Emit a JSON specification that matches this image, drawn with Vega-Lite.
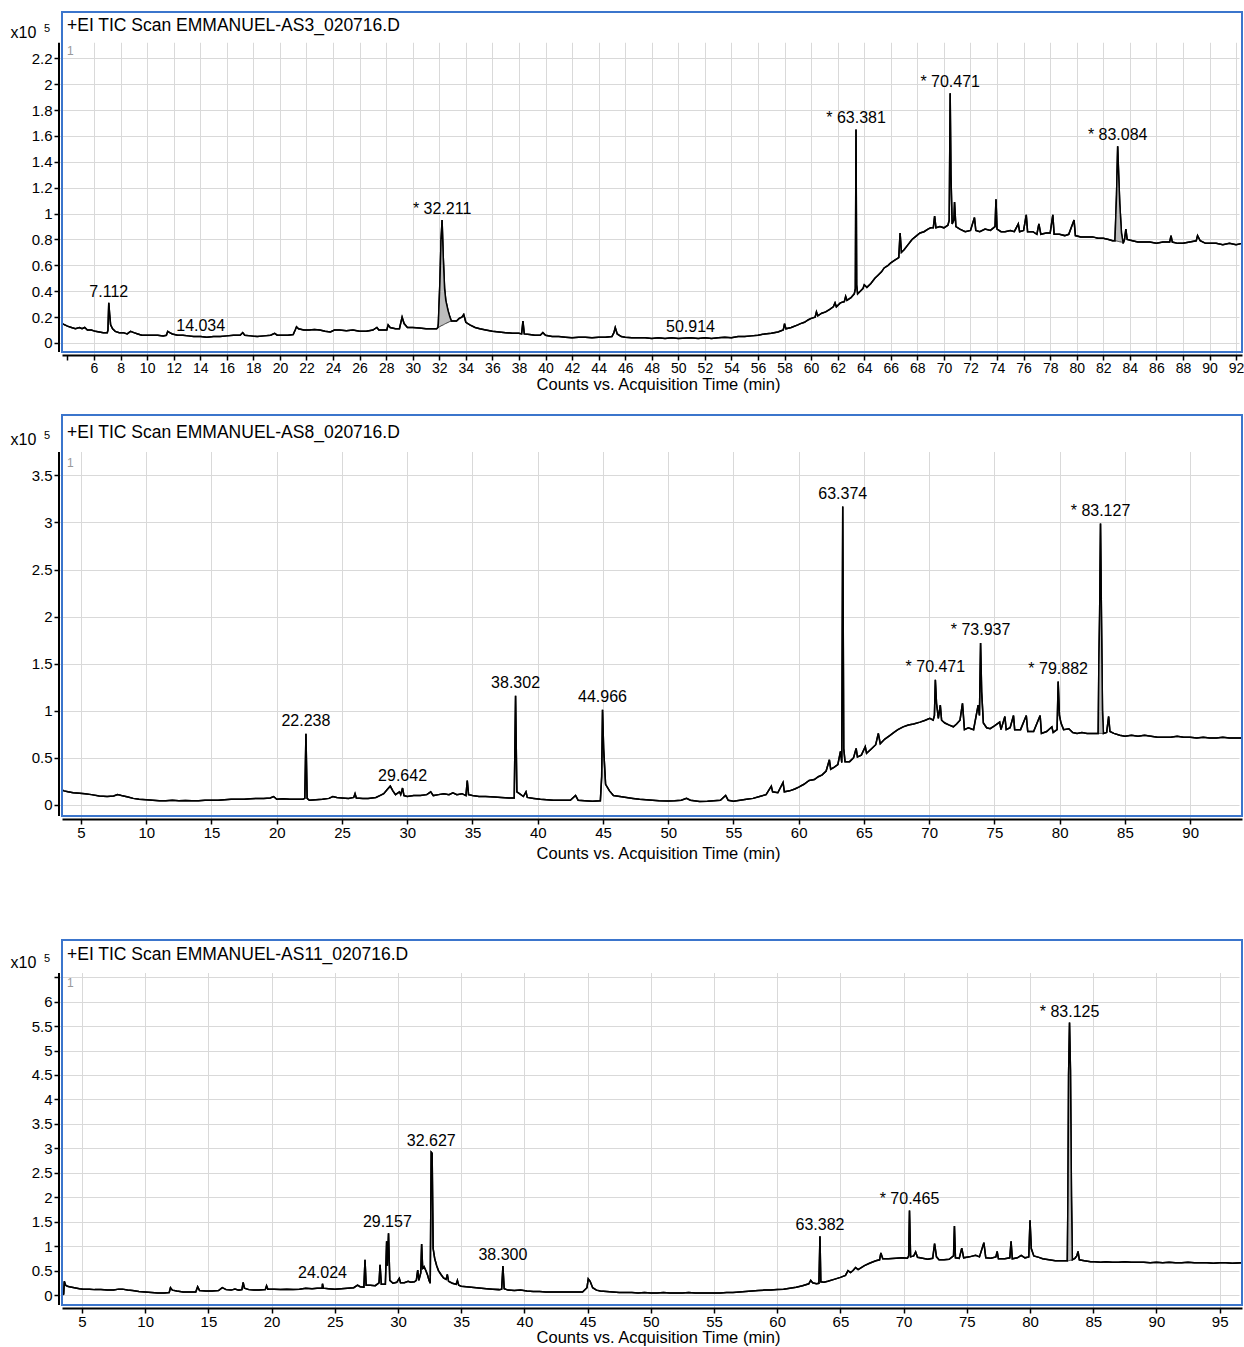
{
"$schema": "https://vega.github.io/schema/vega-lite/v6.json",
"padding": {"left": 10, "top": 11, "right": 0, "bottom": 0},
"background": "white",
"config": {
  "font": "Liberation Sans",
  "view": {"stroke": null},
  "axis": {"labelColor": "black", "titleColor": "black", "tickColor": "black", "domainColor": "black", "gridColor": "#d9d9d9", "gridWidth": 1, "titleFontWeight": "normal", "labelFont": "Liberation Sans", "titleFont": "Liberation Sans", "tickWidth": 1.5, "domainWidth": 2, "tickSize": 5, "offset": 3, "labelFlush": false, "labelOverlap": false},
  "axisX": {"labelFontSize": 15, "labelPadding": 1, "titleFontSize": 16.5, "titleBaseline": "middle", "titleX": 596},
  "axisY": {"labelFontSize": 15, "labelPadding": 2, "titleFontSize": 16, "titleAngle": 0, "titleAlign": "left", "titleBaseline": "middle", "titleX": -49, "domain": false},
  "text": {"font": "Liberation Sans"}
},
"datasets": {
"p1": [
{"t":3.6,"v":0.15},{"t":3.8,"v":0.14},{"t":4.0,"v":0.13},{"t":4.3,"v":0.12},{"t":4.6,"v":0.11},{"t":4.9,"v":0.12},{"t":5.1,"v":0.11},{"t":5.3,"v":0.12},{"t":5.5,"v":0.1},{"t":5.8,"v":0.1},{"t":6.1,"v":0.09},{"t":6.4,"v":0.085},{"t":6.7,"v":0.08},{"t":7.0,"v":0.08},{"t":7.05,"v":0.1},{"t":7.112,"v":0.31},{"t":7.18,"v":0.22},{"t":7.25,"v":0.14},{"t":7.4,"v":0.11},{"t":7.6,"v":0.09},{"t":7.9,"v":0.08},{"t":8.2,"v":0.08},{"t":8.5,"v":0.07},{"t":8.75,"v":0.09},{"t":9.0,"v":0.08},{"t":9.3,"v":0.07},{"t":9.6,"v":0.06},{"t":10.0,"v":0.06},{"t":10.4,"v":0.06},{"t":10.8,"v":0.06},{"t":11.2,"v":0.055},{"t":11.45,"v":0.06},{"t":11.55,"v":0.09},{"t":11.7,"v":0.08},{"t":11.9,"v":0.07},{"t":12.3,"v":0.06},{"t":12.7,"v":0.06},{"t":13.1,"v":0.055},{"t":13.5,"v":0.05},{"t":14.034,"v":0.05},{"t":14.5,"v":0.045},{"t":15.0,"v":0.05},{"t":15.5,"v":0.05},{"t":16.0,"v":0.055},{"t":16.5,"v":0.06},{"t":17.0,"v":0.06},{"t":17.2,"v":0.08},{"t":17.35,"v":0.06},{"t":17.8,"v":0.055},{"t":18.3,"v":0.05},{"t":18.8,"v":0.055},{"t":19.3,"v":0.06},{"t":19.6,"v":0.075},{"t":19.8,"v":0.06},{"t":20.2,"v":0.06},{"t":20.6,"v":0.06},{"t":21.0,"v":0.065},{"t":21.15,"v":0.1},{"t":21.25,"v":0.125},{"t":21.4,"v":0.11},{"t":21.8,"v":0.1},{"t":22.2,"v":0.1},{"t":22.6,"v":0.105},{"t":23.0,"v":0.1},{"t":23.4,"v":0.09},{"t":23.8,"v":0.085},{"t":24.1,"v":0.1},{"t":24.5,"v":0.1},{"t":25.0,"v":0.095},{"t":25.5,"v":0.1},{"t":26.0,"v":0.09},{"t":26.5,"v":0.09},{"t":27.0,"v":0.1},{"t":27.3,"v":0.12},{"t":27.45,"v":0.1},{"t":27.8,"v":0.1},{"t":28.05,"v":0.1},{"t":28.15,"v":0.14},{"t":28.3,"v":0.12},{"t":28.7,"v":0.11},{"t":29.0,"v":0.11},{"t":29.2,"v":0.2},{"t":29.35,"v":0.15},{"t":29.6,"v":0.12},{"t":30.0,"v":0.12},{"t":30.5,"v":0.115},{"t":31.0,"v":0.11},{"t":31.4,"v":0.11},{"t":31.8,"v":0.11},{"t":31.9,"v":0.12},{"t":31.93,"v":0.15},{"t":32.05,"v":0.48},{"t":32.13,"v":0.79},{"t":32.211,"v":0.95},{"t":32.3,"v":0.66},{"t":32.4,"v":0.42},{"t":32.49,"v":0.33},{"t":32.66,"v":0.25},{"t":32.8,"v":0.2},{"t":32.91,"v":0.17},{"t":33.1,"v":0.17},{"t":33.3,"v":0.17},{"t":33.5,"v":0.19},{"t":33.7,"v":0.2},{"t":33.84,"v":0.22},{"t":34.0,"v":0.16},{"t":34.3,"v":0.14},{"t":34.7,"v":0.12},{"t":35.05,"v":0.11},{"t":35.5,"v":0.1},{"t":36.0,"v":0.09},{"t":36.5,"v":0.085},{"t":37.0,"v":0.08},{"t":37.5,"v":0.075},{"t":38.0,"v":0.075},{"t":38.2,"v":0.07},{"t":38.3,"v":0.17},{"t":38.4,"v":0.07},{"t":38.8,"v":0.065},{"t":39.2,"v":0.06},{"t":39.6,"v":0.06},{"t":39.8,"v":0.08},{"t":40.0,"v":0.06},{"t":40.5,"v":0.05},{"t":41.0,"v":0.05},{"t":41.5,"v":0.045},{"t":42.0,"v":0.04},{"t":42.5,"v":0.045},{"t":43.0,"v":0.045},{"t":43.5,"v":0.04},{"t":44.0,"v":0.045},{"t":44.5,"v":0.045},{"t":45.0,"v":0.05},{"t":45.15,"v":0.08},{"t":45.25,"v":0.12},{"t":45.4,"v":0.07},{"t":45.7,"v":0.05},{"t":46.0,"v":0.045},{"t":46.5,"v":0.04},{"t":47.0,"v":0.04},{"t":47.5,"v":0.04},{"t":48.0,"v":0.035},{"t":48.5,"v":0.04},{"t":49.0,"v":0.035},{"t":49.5,"v":0.04},{"t":50.0,"v":0.035},{"t":50.914,"v":0.04},{"t":51.5,"v":0.035},{"t":52.0,"v":0.04},{"t":52.5,"v":0.035},{"t":53.0,"v":0.04},{"t":53.5,"v":0.045},{"t":54.0,"v":0.04},{"t":54.5,"v":0.05},{"t":55.0,"v":0.05},{"t":55.5,"v":0.055},{"t":56.0,"v":0.06},{"t":56.5,"v":0.07},{"t":57.0,"v":0.075},{"t":57.5,"v":0.085},{"t":57.9,"v":0.1},{"t":58.0,"v":0.15},{"t":58.1,"v":0.11},{"t":58.5,"v":0.12},{"t":59.0,"v":0.14},{"t":59.2,"v":0.15},{"t":59.5,"v":0.16},{"t":59.8,"v":0.18},{"t":60.0,"v":0.19},{"t":60.3,"v":0.2},{"t":60.4,"v":0.24},{"t":60.5,"v":0.21},{"t":60.8,"v":0.23},{"t":61.1,"v":0.24},{"t":61.4,"v":0.26},{"t":61.67,"v":0.28},{"t":61.8,"v":0.31},{"t":61.9,"v":0.28},{"t":62.2,"v":0.31},{"t":62.5,"v":0.32},{"t":62.6,"v":0.36},{"t":62.7,"v":0.33},{"t":63.0,"v":0.35},{"t":63.25,"v":0.38},{"t":63.33,"v":0.42},{"t":63.381,"v":1.65},{"t":63.43,"v":0.45},{"t":63.5,"v":0.38},{"t":63.7,"v":0.4},{"t":63.9,"v":0.42},{"t":64.0,"v":0.45},{"t":64.2,"v":0.43},{"t":64.5,"v":0.46},{"t":64.8,"v":0.5},{"t":65.0,"v":0.52},{"t":65.3,"v":0.55},{"t":65.5,"v":0.58},{"t":65.8,"v":0.6},{"t":66.0,"v":0.62},{"t":66.3,"v":0.64},{"t":66.6,"v":0.66},{"t":66.7,"v":0.85},{"t":66.8,"v":0.7},{"t":67.0,"v":0.72},{"t":67.3,"v":0.76},{"t":67.6,"v":0.8},{"t":67.95,"v":0.83},{"t":68.2,"v":0.85},{"t":68.5,"v":0.86},{"t":68.8,"v":0.88},{"t":69.0,"v":0.89},{"t":69.2,"v":0.89},{"t":69.3,"v":0.98},{"t":69.4,"v":0.89},{"t":69.7,"v":0.9},{"t":70.0,"v":0.89},{"t":70.3,"v":0.91},{"t":70.4,"v":0.95},{"t":70.471,"v":1.93},{"t":70.53,"v":1.3},{"t":70.62,"v":0.92},{"t":70.75,"v":0.95},{"t":70.8,"v":1.09},{"t":70.9,"v":0.9},{"t":71.2,"v":0.88},{"t":71.6,"v":0.86},{"t":72.0,"v":0.87},{"t":72.3,"v":0.97},{"t":72.4,"v":0.87},{"t":72.7,"v":0.86},{"t":73.1,"v":0.88},{"t":73.5,"v":0.87},{"t":73.85,"v":0.9},{"t":73.92,"v":1.11},{"t":74.0,"v":0.88},{"t":74.3,"v":0.86},{"t":74.6,"v":0.86},{"t":75.0,"v":0.87},{"t":75.3,"v":0.86},{"t":75.6,"v":0.92},{"t":75.7,"v":0.86},{"t":76.0,"v":0.87},{"t":76.2,"v":0.99},{"t":76.3,"v":0.86},{"t":76.7,"v":0.86},{"t":77.0,"v":0.84},{"t":77.15,"v":0.92},{"t":77.3,"v":0.84},{"t":77.7,"v":0.85},{"t":78.0,"v":0.85},{"t":78.2,"v":0.99},{"t":78.3,"v":0.84},{"t":78.7,"v":0.84},{"t":79.1,"v":0.83},{"t":79.4,"v":0.84},{"t":79.8,"v":0.95},{"t":79.9,"v":0.83},{"t":80.3,"v":0.82},{"t":80.8,"v":0.82},{"t":81.2,"v":0.82},{"t":81.6,"v":0.81},{"t":82.0,"v":0.81},{"t":82.4,"v":0.8},{"t":82.7,"v":0.79},{"t":82.88,"v":0.79},{"t":83.0,"v":1.15},{"t":83.084,"v":1.52},{"t":83.16,"v":1.3},{"t":83.24,"v":1.08},{"t":83.37,"v":0.85},{"t":83.5,"v":0.77},{"t":83.6,"v":0.8},{"t":83.7,"v":0.88},{"t":83.8,"v":0.8},{"t":84.2,"v":0.79},{"t":84.6,"v":0.78},{"t":85.0,"v":0.78},{"t":85.5,"v":0.78},{"t":86.0,"v":0.77},{"t":86.5,"v":0.78},{"t":87.0,"v":0.78},{"t":87.1,"v":0.83},{"t":87.2,"v":0.78},{"t":87.6,"v":0.77},{"t":88.0,"v":0.77},{"t":88.5,"v":0.78},{"t":89.0,"v":0.79},{"t":89.1,"v":0.83},{"t":89.3,"v":0.79},{"t":89.7,"v":0.77},{"t":90.0,"v":0.77},{"t":90.5,"v":0.77},{"t":91.0,"v":0.76},{"t":91.5,"v":0.77},{"t":92.0,"v":0.76},{"t":92.44,"v":0.77}
],
"s1": [
{"g":"a","t":31.9,"v":0.12,"b":0.12},{"g":"a","t":31.93,"v":0.15,"b":0.121},{"g":"a","t":32.05,"v":0.48,"b":0.127},{"g":"a","t":32.13,"v":0.79,"b":0.132},{"g":"a","t":32.211,"v":0.95,"b":0.136},{"g":"a","t":32.3,"v":0.66,"b":0.14},{"g":"a","t":32.4,"v":0.42,"b":0.146},{"g":"a","t":32.49,"v":0.33,"b":0.151},{"g":"a","t":32.66,"v":0.25,"b":0.159},{"g":"a","t":32.8,"v":0.2,"b":0.166},{"g":"a","t":32.91,"v":0.17,"b":0.17},
{"g":"b","t":82.88,"v":0.79,"b":0.79},{"g":"b","t":83.0,"v":1.15,"b":0.788},{"g":"b","t":83.084,"v":1.52,"b":0.786},{"g":"b","t":83.16,"v":1.3,"b":0.784},{"g":"b","t":83.24,"v":1.08,"b":0.782},{"g":"b","t":83.37,"v":0.85,"b":0.78},{"g":"b","t":83.5,"v":0.77,"b":0.77}
],
"l1": [
{"t":7.112,"v":0.31,"s":"7.112"},{"t":14.034,"v":0.05,"s":"14.034"},{"t":32.211,"v":0.95,"s":"* 32.211"},{"t":50.914,"v":0.04,"s":"50.914"},{"t":63.381,"v":1.65,"s":"* 63.381"},{"t":70.471,"v":1.93,"s":"* 70.471"},{"t":83.084,"v":1.52,"s":"* 83.084"}
],
"p2": [
{"t":3.55,"v":0.16},{"t":3.7,"v":0.15},{"t":4.0,"v":0.14},{"t":4.4,"v":0.13},{"t":4.9,"v":0.125},{"t":5.3,"v":0.12},{"t":5.8,"v":0.11},{"t":6.4,"v":0.096},{"t":7.0,"v":0.09},{"t":7.5,"v":0.095},{"t":7.8,"v":0.11},{"t":8.1,"v":0.1},{"t":8.6,"v":0.085},{"t":9.0,"v":0.07},{"t":9.45,"v":0.06},{"t":10.0,"v":0.055},{"t":10.5,"v":0.05},{"t":11.0,"v":0.046},{"t":11.5,"v":0.045},{"t":12.0,"v":0.05},{"t":12.5,"v":0.045},{"t":13.0,"v":0.048},{"t":13.5,"v":0.045},{"t":14.0,"v":0.046},{"t":14.5,"v":0.05},{"t":15.0,"v":0.05},{"t":15.5,"v":0.05},{"t":16.0,"v":0.055},{"t":16.5,"v":0.06},{"t":17.0,"v":0.06},{"t":17.5,"v":0.06},{"t":18.0,"v":0.065},{"t":18.5,"v":0.07},{"t":19.0,"v":0.07},{"t":19.5,"v":0.075},{"t":19.76,"v":0.09},{"t":20.0,"v":0.06},{"t":20.5,"v":0.065},{"t":21.0,"v":0.06},{"t":21.5,"v":0.06},{"t":22.0,"v":0.06},{"t":22.15,"v":0.07},{"t":22.238,"v":0.755},{"t":22.33,"v":0.07},{"t":22.5,"v":0.05},{"t":23.0,"v":0.055},{"t":23.5,"v":0.06},{"t":24.0,"v":0.07},{"t":24.3,"v":0.09},{"t":24.6,"v":0.08},{"t":25.0,"v":0.075},{"t":25.5,"v":0.07},{"t":25.9,"v":0.08},{"t":26.0,"v":0.12},{"t":26.1,"v":0.075},{"t":26.6,"v":0.07},{"t":27.0,"v":0.07},{"t":27.6,"v":0.08},{"t":27.9,"v":0.1},{"t":28.2,"v":0.12},{"t":28.5,"v":0.17},{"t":28.7,"v":0.2},{"t":28.9,"v":0.15},{"t":29.1,"v":0.11},{"t":29.4,"v":0.14},{"t":29.5,"v":0.11},{"t":29.642,"v":0.18},{"t":29.75,"v":0.1},{"t":30.0,"v":0.09},{"t":30.5,"v":0.1},{"t":31.0,"v":0.1},{"t":31.5,"v":0.11},{"t":31.8,"v":0.14},{"t":32.0,"v":0.1},{"t":32.4,"v":0.11},{"t":32.8,"v":0.12},{"t":33.2,"v":0.11},{"t":33.5,"v":0.13},{"t":33.8,"v":0.11},{"t":34.2,"v":0.12},{"t":34.5,"v":0.1},{"t":34.6,"v":0.26},{"t":34.7,"v":0.11},{"t":35.0,"v":0.1},{"t":35.5,"v":0.09},{"t":36.0,"v":0.09},{"t":36.7,"v":0.085},{"t":37.2,"v":0.08},{"t":37.8,"v":0.075},{"t":38.2,"v":0.075},{"t":38.302,"v":1.16},{"t":38.4,"v":0.14},{"t":38.6,"v":0.12},{"t":38.9,"v":0.09},{"t":39.1,"v":0.14},{"t":39.2,"v":0.08},{"t":39.7,"v":0.07},{"t":40.2,"v":0.06},{"t":40.7,"v":0.055},{"t":41.2,"v":0.05},{"t":41.8,"v":0.05},{"t":42.5,"v":0.05},{"t":42.9,"v":0.1},{"t":43.1,"v":0.05},{"t":43.6,"v":0.045},{"t":44.2,"v":0.04},{"t":44.8,"v":0.045},{"t":44.9,"v":0.3},{"t":44.966,"v":1.01},{"t":45.05,"v":0.6},{"t":45.2,"v":0.22},{"t":45.5,"v":0.15},{"t":45.8,"v":0.1},{"t":46.3,"v":0.09},{"t":46.8,"v":0.08},{"t":47.3,"v":0.07},{"t":47.8,"v":0.06},{"t":48.3,"v":0.055},{"t":48.8,"v":0.05},{"t":49.3,"v":0.045},{"t":50.0,"v":0.043},{"t":50.5,"v":0.045},{"t":51.0,"v":0.05},{"t":51.4,"v":0.07},{"t":51.7,"v":0.05},{"t":52.4,"v":0.036},{"t":53.0,"v":0.04},{"t":53.5,"v":0.045},{"t":54.0,"v":0.05},{"t":54.4,"v":0.1},{"t":54.6,"v":0.05},{"t":55.0,"v":0.04},{"t":55.5,"v":0.05},{"t":56.0,"v":0.06},{"t":56.5,"v":0.07},{"t":57.0,"v":0.09},{"t":57.5,"v":0.11},{"t":57.9,"v":0.2},{"t":58.0,"v":0.14},{"t":58.4,"v":0.13},{"t":58.8,"v":0.24},{"t":58.9,"v":0.14},{"t":59.3,"v":0.15},{"t":59.7,"v":0.17},{"t":60.0,"v":0.19},{"t":60.4,"v":0.22},{"t":60.8,"v":0.26},{"t":61.2,"v":0.27},{"t":61.5,"v":0.3},{"t":61.8,"v":0.32},{"t":62.1,"v":0.36},{"t":62.35,"v":0.48},{"t":62.45,"v":0.38},{"t":62.7,"v":0.4},{"t":63.0,"v":0.43},{"t":63.2,"v":0.57},{"t":63.3,"v":0.45},{"t":63.374,"v":3.17},{"t":63.45,"v":0.6},{"t":63.55,"v":0.46},{"t":63.9,"v":0.46},{"t":64.2,"v":0.5},{"t":64.4,"v":0.6},{"t":64.5,"v":0.51},{"t":64.8,"v":0.53},{"t":65.1,"v":0.62},{"t":65.2,"v":0.55},{"t":65.6,"v":0.6},{"t":65.9,"v":0.64},{"t":66.1,"v":0.76},{"t":66.25,"v":0.65},{"t":66.6,"v":0.7},{"t":67.0,"v":0.74},{"t":67.3,"v":0.77},{"t":67.6,"v":0.8},{"t":68.0,"v":0.83},{"t":68.4,"v":0.85},{"t":68.8,"v":0.86},{"t":69.3,"v":0.88},{"t":69.7,"v":0.9},{"t":70.05,"v":0.92},{"t":70.3,"v":0.9},{"t":70.4,"v":0.95},{"t":70.471,"v":1.33},{"t":70.56,"v":1.08},{"t":70.7,"v":0.92},{"t":70.85,"v":1.06},{"t":70.95,"v":0.9},{"t":71.2,"v":0.87},{"t":71.5,"v":0.85},{"t":71.85,"v":0.83},{"t":72.1,"v":0.86},{"t":72.36,"v":0.9},{"t":72.55,"v":1.08},{"t":72.7,"v":0.8},{"t":73.0,"v":0.82},{"t":73.4,"v":0.8},{"t":73.75,"v":1.06},{"t":73.85,"v":0.95},{"t":73.937,"v":1.72},{"t":74.02,"v":1.2},{"t":74.15,"v":0.87},{"t":74.4,"v":0.82},{"t":74.67,"v":0.81},{"t":75.0,"v":0.84},{"t":75.4,"v":0.88},{"t":75.5,"v":0.8},{"t":75.8,"v":0.94},{"t":75.9,"v":0.8},{"t":76.2,"v":0.82},{"t":76.46,"v":0.95},{"t":76.55,"v":0.8},{"t":77.0,"v":0.8},{"t":77.44,"v":0.95},{"t":77.55,"v":0.78},{"t":78.0,"v":0.78},{"t":78.5,"v":0.95},{"t":78.6,"v":0.76},{"t":79.0,"v":0.78},{"t":79.4,"v":0.83},{"t":79.5,"v":0.77},{"t":79.8,"v":0.8},{"t":79.882,"v":1.31},{"t":79.98,"v":0.95},{"t":80.1,"v":0.87},{"t":80.3,"v":0.8},{"t":80.7,"v":0.81},{"t":81.0,"v":0.77},{"t":81.33,"v":0.76},{"t":81.7,"v":0.77},{"t":82.1,"v":0.76},{"t":82.6,"v":0.76},{"t":82.95,"v":0.76},{"t":83.0,"v":1.5},{"t":83.06,"v":2.03},{"t":83.127,"v":2.99},{"t":83.2,"v":2.0},{"t":83.28,"v":1.0},{"t":83.35,"v":0.76},{"t":83.6,"v":0.77},{"t":83.75,"v":0.94},{"t":83.85,"v":0.78},{"t":84.15,"v":0.76},{"t":84.6,"v":0.74},{"t":85.0,"v":0.73},{"t":85.5,"v":0.74},{"t":86.0,"v":0.73},{"t":86.5,"v":0.74},{"t":87.0,"v":0.73},{"t":87.5,"v":0.72},{"t":88.0,"v":0.72},{"t":88.5,"v":0.72},{"t":89.0,"v":0.73},{"t":89.5,"v":0.72},{"t":90.0,"v":0.72},{"t":90.5,"v":0.71},{"t":91.0,"v":0.72},{"t":91.5,"v":0.71},{"t":92.0,"v":0.71},{"t":92.5,"v":0.72},{"t":93.0,"v":0.71},{"t":93.5,"v":0.71},{"t":93.95,"v":0.71}
],
"s2": [
{"g":"a","t":82.95,"v":0.76,"b":0.76},{"g":"a","t":83.0,"v":1.5,"b":0.76},{"g":"a","t":83.06,"v":2.03,"b":0.76},{"g":"a","t":83.127,"v":2.99,"b":0.76},{"g":"a","t":83.2,"v":2.0,"b":0.76},{"g":"a","t":83.28,"v":1.0,"b":0.76},{"g":"a","t":83.35,"v":0.76,"b":0.76}
],
"l2": [
{"t":22.238,"v":0.755,"s":"22.238"},{"t":29.642,"v":0.18,"s":"29.642"},{"t":38.302,"v":1.16,"s":"38.302"},{"t":44.966,"v":1.01,"s":"44.966"},{"t":63.374,"v":3.17,"s":"63.374"},{"t":70.471,"v":1.33,"s":"* 70.471"},{"t":73.937,"v":1.72,"s":"* 73.937"},{"t":79.882,"v":1.31,"s":"* 79.882"},{"t":83.127,"v":2.99,"s":"* 83.127"}
],
"p3": [
{"t":3.45,"v":0.0},{"t":3.55,"v":0.02},{"t":3.6,"v":0.28},{"t":3.7,"v":0.2},{"t":3.85,"v":0.18},{"t":4.0,"v":0.17},{"t":4.4,"v":0.15},{"t":4.8,"v":0.13},{"t":5.1,"v":0.12},{"t":5.6,"v":0.12},{"t":6.0,"v":0.11},{"t":6.5,"v":0.11},{"t":7.0,"v":0.1},{"t":7.5,"v":0.1},{"t":7.9,"v":0.12},{"t":8.2,"v":0.12},{"t":8.6,"v":0.1},{"t":9.0,"v":0.09},{"t":9.5,"v":0.07},{"t":10.0,"v":0.06},{"t":10.5,"v":0.05},{"t":11.0,"v":0.04},{"t":11.5,"v":0.04},{"t":11.9,"v":0.05},{"t":12.0,"v":0.15},{"t":12.15,"v":0.1},{"t":12.5,"v":0.08},{"t":13.0,"v":0.06},{"t":13.5,"v":0.06},{"t":14.0,"v":0.06},{"t":14.15,"v":0.17},{"t":14.3,"v":0.09},{"t":14.8,"v":0.08},{"t":15.3,"v":0.08},{"t":15.8,"v":0.09},{"t":16.1,"v":0.15},{"t":16.4,"v":0.11},{"t":16.8,"v":0.1},{"t":17.1,"v":0.12},{"t":17.4,"v":0.1},{"t":17.65,"v":0.11},{"t":17.75,"v":0.26},{"t":17.85,"v":0.14},{"t":18.2,"v":0.11},{"t":18.6,"v":0.1},{"t":19.0,"v":0.1},{"t":19.5,"v":0.11},{"t":19.6,"v":0.19},{"t":19.7,"v":0.12},{"t":20.2,"v":0.12},{"t":20.7,"v":0.11},{"t":21.2,"v":0.12},{"t":21.7,"v":0.11},{"t":22.2,"v":0.12},{"t":22.7,"v":0.14},{"t":23.2,"v":0.13},{"t":23.6,"v":0.14},{"t":24.0,"v":0.14},{"t":24.024,"v":0.23},{"t":24.1,"v":0.14},{"t":24.5,"v":0.13},{"t":25.0,"v":0.12},{"t":25.5,"v":0.13},{"t":26.0,"v":0.14},{"t":26.5,"v":0.15},{"t":26.8,"v":0.2},{"t":27.0,"v":0.17},{"t":27.3,"v":0.16},{"t":27.39,"v":0.72},{"t":27.48,"v":0.2},{"t":27.8,"v":0.2},{"t":28.2,"v":0.19},{"t":28.5,"v":0.25},{"t":28.58,"v":0.62},{"t":28.68,"v":0.22},{"t":29.0,"v":0.22},{"t":29.1,"v":1.1},{"t":29.157,"v":0.6},{"t":29.25,"v":1.26},{"t":29.35,"v":0.3},{"t":29.6,"v":0.24},{"t":29.9,"v":0.26},{"t":30.1,"v":0.34},{"t":30.2,"v":0.25},{"t":30.5,"v":0.25},{"t":30.8,"v":0.28},{"t":31.0,"v":0.26},{"t":31.3,"v":0.27},{"t":31.45,"v":0.3},{"t":31.56,"v":0.51},{"t":31.65,"v":0.3},{"t":31.8,"v":0.45},{"t":31.87,"v":1.04},{"t":31.95,"v":0.55},{"t":32.06,"v":0.58},{"t":32.2,"v":0.5},{"t":32.35,"v":0.4},{"t":32.45,"v":0.3},{"t":32.55,"v":0.24},{"t":32.627,"v":2.92},{"t":32.7,"v":2.9},{"t":32.78,"v":0.95},{"t":32.9,"v":0.75},{"t":33.06,"v":0.6},{"t":33.2,"v":0.5},{"t":33.4,"v":0.42},{"t":33.6,"v":0.35},{"t":33.8,"v":0.32},{"t":33.9,"v":0.42},{"t":34.0,"v":0.28},{"t":34.3,"v":0.24},{"t":34.6,"v":0.22},{"t":34.7,"v":0.3},{"t":34.8,"v":0.2},{"t":35.0,"v":0.18},{"t":35.4,"v":0.17},{"t":35.8,"v":0.16},{"t":36.2,"v":0.15},{"t":36.6,"v":0.14},{"t":37.0,"v":0.13},{"t":37.5,"v":0.12},{"t":38.0,"v":0.11},{"t":38.2,"v":0.12},{"t":38.3,"v":0.59},{"t":38.4,"v":0.13},{"t":38.7,"v":0.1},{"t":39.2,"v":0.09},{"t":39.7,"v":0.1},{"t":40.2,"v":0.08},{"t":40.7,"v":0.07},{"t":41.2,"v":0.07},{"t":41.7,"v":0.06},{"t":42.3,"v":0.06},{"t":42.9,"v":0.06},{"t":43.5,"v":0.06},{"t":44.0,"v":0.06},{"t":44.6,"v":0.06},{"t":44.95,"v":0.15},{"t":45.05,"v":0.33},{"t":45.2,"v":0.28},{"t":45.4,"v":0.15},{"t":45.7,"v":0.1},{"t":46.0,"v":0.08},{"t":46.5,"v":0.07},{"t":47.0,"v":0.06},{"t":47.5,"v":0.05},{"t":48.0,"v":0.05},{"t":48.5,"v":0.05},{"t":49.0,"v":0.04},{"t":49.5,"v":0.05},{"t":50.0,"v":0.04},{"t":50.5,"v":0.04},{"t":51.0,"v":0.05},{"t":51.5,"v":0.04},{"t":52.0,"v":0.04},{"t":52.5,"v":0.04},{"t":53.0,"v":0.05},{"t":53.5,"v":0.04},{"t":54.0,"v":0.04},{"t":54.5,"v":0.04},{"t":55.0,"v":0.04},{"t":55.5,"v":0.04},{"t":56.0,"v":0.05},{"t":56.5,"v":0.05},{"t":57.0,"v":0.06},{"t":57.5,"v":0.07},{"t":58.0,"v":0.08},{"t":58.5,"v":0.09},{"t":59.0,"v":0.1},{"t":59.5,"v":0.1},{"t":60.0,"v":0.11},{"t":60.5,"v":0.12},{"t":61.0,"v":0.14},{"t":61.5,"v":0.16},{"t":62.0,"v":0.19},{"t":62.5,"v":0.23},{"t":62.65,"v":0.3},{"t":62.8,"v":0.25},{"t":63.1,"v":0.23},{"t":63.3,"v":0.24},{"t":63.382,"v":1.2},{"t":63.45,"v":0.27},{"t":63.7,"v":0.26},{"t":64.0,"v":0.28},{"t":64.5,"v":0.32},{"t":65.0,"v":0.36},{"t":65.4,"v":0.4},{"t":65.6,"v":0.5},{"t":65.8,"v":0.46},{"t":66.0,"v":0.5},{"t":66.2,"v":0.56},{"t":66.4,"v":0.52},{"t":66.9,"v":0.6},{"t":67.3,"v":0.65},{"t":67.8,"v":0.7},{"t":68.1,"v":0.72},{"t":68.2,"v":0.86},{"t":68.35,"v":0.74},{"t":68.8,"v":0.74},{"t":69.4,"v":0.75},{"t":69.9,"v":0.76},{"t":70.3,"v":0.75},{"t":70.4,"v":0.8},{"t":70.465,"v":1.73},{"t":70.55,"v":0.78},{"t":70.8,"v":0.8},{"t":70.95,"v":0.88},{"t":71.1,"v":0.77},{"t":71.5,"v":0.75},{"t":71.9,"v":0.73},{"t":72.3,"v":0.75},{"t":72.45,"v":1.05},{"t":72.6,"v":0.78},{"t":72.8,"v":0.72},{"t":73.2,"v":0.72},{"t":73.6,"v":0.73},{"t":73.95,"v":0.8},{"t":74.02,"v":1.41},{"t":74.1,"v":0.76},{"t":74.4,"v":0.75},{"t":74.6,"v":0.96},{"t":74.75,"v":0.76},{"t":75.2,"v":0.78},{"t":75.7,"v":0.81},{"t":76.0,"v":0.78},{"t":76.35,"v":1.07},{"t":76.5,"v":0.76},{"t":76.9,"v":0.75},{"t":77.3,"v":0.78},{"t":77.4,"v":0.89},{"t":77.5,"v":0.74},{"t":78.0,"v":0.74},{"t":78.4,"v":0.76},{"t":78.5,"v":1.1},{"t":78.6,"v":0.74},{"t":79.0,"v":0.76},{"t":79.3,"v":0.81},{"t":79.6,"v":0.76},{"t":79.9,"v":0.78},{"t":80.0,"v":1.53},{"t":80.1,"v":0.95},{"t":80.3,"v":0.8},{"t":80.7,"v":0.77},{"t":81.0,"v":0.74},{"t":81.5,"v":0.72},{"t":82.0,"v":0.7},{"t":82.5,"v":0.7},{"t":82.95,"v":0.7},{"t":83.0,"v":2.0},{"t":83.05,"v":4.5},{"t":83.125,"v":5.57},{"t":83.2,"v":4.6},{"t":83.28,"v":2.0},{"t":83.35,"v":0.72},{"t":83.55,"v":0.75},{"t":83.7,"v":0.8},{"t":83.8,"v":0.89},{"t":83.9,"v":0.72},{"t":84.3,"v":0.7},{"t":84.8,"v":0.68},{"t":85.1,"v":0.68},{"t":85.6,"v":0.67},{"t":86.0,"v":0.68},{"t":86.5,"v":0.67},{"t":87.0,"v":0.67},{"t":87.5,"v":0.68},{"t":88.0,"v":0.67},{"t":88.5,"v":0.67},{"t":89.0,"v":0.67},{"t":89.5,"v":0.66},{"t":90.0,"v":0.67},{"t":90.5,"v":0.66},{"t":91.0,"v":0.67},{"t":91.5,"v":0.66},{"t":92.0,"v":0.66},{"t":92.5,"v":0.67},{"t":93.0,"v":0.66},{"t":93.5,"v":0.66},{"t":94.0,"v":0.66},{"t":94.5,"v":0.65},{"t":95.0,"v":0.66},{"t":95.5,"v":0.66},{"t":96.0,"v":0.65},{"t":96.75,"v":0.66}
],
"s3": [
{"g":"a","t":82.95,"v":0.7,"b":0.7},{"g":"a","t":83.0,"v":2.0,"b":0.7},{"g":"a","t":83.05,"v":4.5,"b":0.7},{"g":"a","t":83.125,"v":5.57,"b":0.705},{"g":"a","t":83.2,"v":4.6,"b":0.71},{"g":"a","t":83.28,"v":2.0,"b":0.715},{"g":"a","t":83.35,"v":0.72,"b":0.72}
],
"l3": [
{"t":24.024,"v":0.23,"s":"24.024"},{"t":29.157,"v":1.26,"s":"29.157"},{"t":32.627,"v":2.92,"s":"32.627"},{"t":38.3,"v":0.59,"s":"38.300"},{"t":63.382,"v":1.2,"s":"63.382"},{"t":70.465,"v":1.73,"s":"* 70.465"},{"t":83.125,"v":5.57,"s":"* 83.125"}
]
},
"spacing": 77,
"vconcat": [
{"spacing": 21, "vconcat": [
{
"width": 1180, "height": 340,
"layer": [
{"data": {"name": "p1"}, "mark": {"type": "line", "color": "black", "strokeWidth": 1.5, "clip": true},
 "encoding": {
  "x": {"field": "t", "type": "quantitative", "scale": {"domain": [3.59, 92.446], "nice": false, "zero": false},
        "axis": {"title": "Counts vs. Acquisition Time (min)", "titleY": 29, "tickCount": 200, "format": "~g", "labelOverlap": false, "labelFlush": false, "labelFontSize": 14, "values": [4,6,8,10,12,14,16,18,20,22,24,26,28,30,32,34,36,38,40,42,44,46,48,50,52,54,56,58,60,62,64,66,68,70,72,74,76,78,80,82,84,86,88,90,92], "labelExpr": "datum.value < 5 ? '' : datum.label", "gridColor": {"condition": {"test": "datum.value < 5", "value": "transparent"}, "value": "#d9d9d9"}}},
  "y": {"field": "v", "type": "quantitative", "scale": {"domain": [-0.0696, 2.558], "nice": false, "zero": false},
        "axis": {"title": "x10", "titleY": 20, "tickCount": 200, "labelOverlap": false, "format": "~g", "values": [0,0.2,0.4,0.6,0.8,1,1.2,1.4,1.6,1.8,2,2.2]}}}},
{"data": {"name": "s1"}, "mark": {"type": "area", "fill": "#bdbdbd", "clip": true},
 "encoding": {
  "x": {"field": "t", "type": "quantitative", "scale": {"domain": [3.59, 92.446], "nice": false, "zero": false}},
  "y": {"field": "v", "type": "quantitative", "scale": {"domain": [-0.0696, 2.558], "nice": false, "zero": false}},
  "y2": {"field": "b"},
  "detail": {"field": "g"}}},
{"data": {"name": "s1"}, "mark": {"type": "line", "color": "#404040", "strokeWidth": 1, "clip": true},
 "encoding": {
  "x": {"field": "t", "type": "quantitative", "scale": {"domain": [3.59, 92.446], "nice": false, "zero": false}},
  "y": {"field": "b", "type": "quantitative", "scale": {"domain": [-0.0696, 2.558], "nice": false, "zero": false}},
  "detail": {"field": "g"}}},
{"data": {"name": "p1"}, "mark": {"type": "line", "color": "black", "strokeWidth": 1.5, "clip": true},
 "encoding": {
  "x": {"field": "t", "type": "quantitative", "scale": {"domain": [3.59, 92.446], "nice": false, "zero": false}},
  "y": {"field": "v", "type": "quantitative", "scale": {"domain": [-0.0696, 2.558], "nice": false, "zero": false}}}},
{"data": {"values": [{}]}, "mark": {"type": "rect", "fill": "white"},
 "encoding": {
  "x": {"datum": 3.59, "type": "quantitative", "scale": {"domain": [3.59, 92.446], "nice": false, "zero": false}},
  "x2": {"datum": 92.446},
  "y": {"datum": 2.321, "type": "quantitative", "scale": {"domain": [-0.0696, 2.558], "nice": false, "zero": false}},
  "y2": {"datum": 2.558}}},
{"data": {"values": [{}]}, "mark": {"type": "rect", "fillOpacity": 0, "stroke": "#3b75cc", "strokeWidth": 2},
 "encoding": {
  "x": {"datum": 3.59, "type": "quantitative", "scale": {"domain": [3.59, 92.446], "nice": false, "zero": false}},
  "x2": {"datum": 92.446},
  "y": {"datum": -0.0696, "type": "quantitative", "scale": {"domain": [-0.0696, 2.558], "nice": false, "zero": false}},
  "y2": {"datum": 2.558}}},
{"data": {"values": [{}]}, "mark": {"type": "rule", "color": "black", "strokeWidth": 2, "xOffset": -3},
 "encoding": {
  "x": {"datum": 3.59, "type": "quantitative", "scale": {"domain": [3.59, 92.446], "nice": false, "zero": false}},
  "y": {"datum": -0.0696, "type": "quantitative", "scale": {"domain": [-0.0696, 2.558], "nice": false, "zero": false}},
  "y2": {"datum": 2.321}}},
{"data": {"name": "l1"}, "mark": {"type": "text", "fontSize": 16, "baseline": "alphabetic", "dy": -6, "color": "black"},
 "encoding": {
  "x": {"field": "t", "type": "quantitative", "scale": {"domain": [3.59, 92.446], "nice": false, "zero": false}},
  "y": {"field": "v", "type": "quantitative", "scale": {"domain": [-0.0696, 2.558], "nice": false, "zero": false}},
  "text": {"field": "s"}}},
{"data": {"values": [{}]}, "mark": {"type": "text", "align": "left", "baseline": "middle", "dx": 5, "dy": 14, "fontSize": 17.5, "color": "black", "text": "+EI TIC Scan EMMANUEL-AS3_020716.D"},
 "encoding": {
  "x": {"datum": 3.59, "type": "quantitative", "scale": {"domain": [3.59, 92.446], "nice": false, "zero": false}},
  "y": {"datum": 2.558, "type": "quantitative", "scale": {"domain": [-0.0696, 2.558], "nice": false, "zero": false}}}},
{"data": {"values": [{}]}, "mark": {"type": "text", "align": "left", "baseline": "middle", "dx": -18, "dy": 16.5, "fontSize": 11, "color": "black", "text": "5"},
 "encoding": {
  "x": {"datum": 3.59, "type": "quantitative", "scale": {"domain": [3.59, 92.446], "nice": false, "zero": false}},
  "y": {"datum": 2.558, "type": "quantitative", "scale": {"domain": [-0.0696, 2.558], "nice": false, "zero": false}}}},
{"data": {"values": [{}]}, "mark": {"type": "text", "align": "left", "baseline": "middle", "dx": 5, "dy": 8, "fontSize": 12, "color": "#999999", "text": "1"},
 "encoding": {
  "x": {"datum": 3.59, "type": "quantitative", "scale": {"domain": [3.59, 92.446], "nice": false, "zero": false}},
  "y": {"datum": 2.321, "type": "quantitative", "scale": {"domain": [-0.0696, 2.558], "nice": false, "zero": false}}}}
]
},
{
"width": 1180, "height": 401,
"layer": [
{"data": {"name": "p2"}, "mark": {"type": "line", "color": "black", "strokeWidth": 1.5, "clip": true},
 "encoding": {
  "x": {"field": "t", "type": "quantitative", "scale": {"domain": [3.544, 93.97], "nice": false, "zero": false},
        "axis": {"title": "Counts vs. Acquisition Time (min)", "titleY": 34, "tickCount": 200, "format": "~g", "labelOverlap": false, "labelFlush": false, "values": [5,10,15,20,25,30,35,40,45,50,55,60,65,70,75,80,85,90]}},
  "y": {"field": "v", "type": "quantitative", "scale": {"domain": [-0.117, 4.141], "nice": false, "zero": false},
        "axis": {"title": "x10", "titleY": 24.5, "tickCount": 200, "labelOverlap": false, "format": "~g", "values": [0,0.5,1,1.5,2,2.5,3,3.5]}}}},
{"data": {"name": "s2"}, "mark": {"type": "area", "fill": "#bdbdbd", "clip": true},
 "encoding": {
  "x": {"field": "t", "type": "quantitative", "scale": {"domain": [3.544, 93.97], "nice": false, "zero": false}},
  "y": {"field": "v", "type": "quantitative", "scale": {"domain": [-0.117, 4.141], "nice": false, "zero": false}},
  "y2": {"field": "b"},
  "detail": {"field": "g"}}},
{"data": {"name": "s2"}, "mark": {"type": "line", "color": "#404040", "strokeWidth": 1, "clip": true},
 "encoding": {
  "x": {"field": "t", "type": "quantitative", "scale": {"domain": [3.544, 93.97], "nice": false, "zero": false}},
  "y": {"field": "b", "type": "quantitative", "scale": {"domain": [-0.117, 4.141], "nice": false, "zero": false}},
  "detail": {"field": "g"}}},
{"data": {"name": "p2"}, "mark": {"type": "line", "color": "black", "strokeWidth": 1.5, "clip": true},
 "encoding": {
  "x": {"field": "t", "type": "quantitative", "scale": {"domain": [3.544, 93.97], "nice": false, "zero": false}},
  "y": {"field": "v", "type": "quantitative", "scale": {"domain": [-0.117, 4.141], "nice": false, "zero": false}}}},
{"data": {"values": [{}]}, "mark": {"type": "rect", "fill": "white"},
 "encoding": {
  "x": {"datum": 3.544, "type": "quantitative", "scale": {"domain": [3.544, 93.97], "nice": false, "zero": false}},
  "x2": {"datum": 93.97},
  "y": {"datum": 3.747, "type": "quantitative", "scale": {"domain": [-0.117, 4.141], "nice": false, "zero": false}},
  "y2": {"datum": 4.141}}},
{"data": {"values": [{}]}, "mark": {"type": "rect", "fillOpacity": 0, "stroke": "#3b75cc", "strokeWidth": 2},
 "encoding": {
  "x": {"datum": 3.544, "type": "quantitative", "scale": {"domain": [3.544, 93.97], "nice": false, "zero": false}},
  "x2": {"datum": 93.97},
  "y": {"datum": -0.117, "type": "quantitative", "scale": {"domain": [-0.117, 4.141], "nice": false, "zero": false}},
  "y2": {"datum": 4.141}}},
{"data": {"values": [{}]}, "mark": {"type": "rule", "color": "black", "strokeWidth": 2, "xOffset": -3},
 "encoding": {
  "x": {"datum": 3.544, "type": "quantitative", "scale": {"domain": [3.544, 93.97], "nice": false, "zero": false}},
  "y": {"datum": -0.117, "type": "quantitative", "scale": {"domain": [-0.117, 4.141], "nice": false, "zero": false}},
  "y2": {"datum": 3.747}}},
{"data": {"name": "l2"}, "mark": {"type": "text", "fontSize": 16, "baseline": "alphabetic", "dy": -7.5, "color": "black"},
 "encoding": {
  "x": {"field": "t", "type": "quantitative", "scale": {"domain": [3.544, 93.97], "nice": false, "zero": false}},
  "y": {"field": "v", "type": "quantitative", "scale": {"domain": [-0.117, 4.141], "nice": false, "zero": false}},
  "text": {"field": "s"}}},
{"data": {"values": [{}]}, "mark": {"type": "text", "align": "left", "baseline": "middle", "dx": 5, "dy": 18, "fontSize": 17.5, "color": "black", "text": "+EI TIC Scan EMMANUEL-AS8_020716.D"},
 "encoding": {
  "x": {"datum": 3.544, "type": "quantitative", "scale": {"domain": [3.544, 93.97], "nice": false, "zero": false}},
  "y": {"datum": 4.141, "type": "quantitative", "scale": {"domain": [-0.117, 4.141], "nice": false, "zero": false}}}},
{"data": {"values": [{}]}, "mark": {"type": "text", "align": "left", "baseline": "middle", "dx": -18, "dy": 21, "fontSize": 11, "color": "black", "text": "5"},
 "encoding": {
  "x": {"datum": 3.544, "type": "quantitative", "scale": {"domain": [3.544, 93.97], "nice": false, "zero": false}},
  "y": {"datum": 4.141, "type": "quantitative", "scale": {"domain": [-0.117, 4.141], "nice": false, "zero": false}}}},
{"data": {"values": [{}]}, "mark": {"type": "text", "align": "left", "baseline": "middle", "dx": 5, "dy": 10.5, "fontSize": 12, "color": "#999999", "text": "1"},
 "encoding": {
  "x": {"datum": 3.544, "type": "quantitative", "scale": {"domain": [3.544, 93.97], "nice": false, "zero": false}},
  "y": {"datum": 3.747, "type": "quantitative", "scale": {"domain": [-0.117, 4.141], "nice": false, "zero": false}}}}
]
}
]},
{
"width": 1180, "height": 365,
"layer": [
{"data": {"name": "p3"}, "mark": {"type": "line", "color": "black", "strokeWidth": 1.5, "clip": true},
 "encoding": {
  "x": {"field": "t", "type": "quantitative", "scale": {"domain": [3.418, 96.77], "nice": false, "zero": false},
        "axis": {"title": "Counts vs. Acquisition Time (min)", "titleY": 29, "tickCount": 200, "format": "~g", "labelOverlap": false, "labelFlush": false, "values": [5,10,15,20,25,30,35,40,45,50,55,60,65,70,75,80,85,90,95]}},
  "y": {"field": "v", "type": "quantitative", "scale": {"domain": [-0.2045, 7.26], "nice": false, "zero": false},
        "axis": {"title": "x10", "titleY": 22, "tickCount": 200, "labelOverlap": false, "format": "~g", "values": [0,0.5,1,1.5,2,2.5,3,3.5,4,4.5,5,5.5,6,6.5], "labelExpr": "datum.value > 6.2 ? '' : datum.label"}}}},
{"data": {"name": "s3"}, "mark": {"type": "area", "fill": "#bdbdbd", "clip": true},
 "encoding": {
  "x": {"field": "t", "type": "quantitative", "scale": {"domain": [3.418, 96.77], "nice": false, "zero": false}},
  "y": {"field": "v", "type": "quantitative", "scale": {"domain": [-0.2045, 7.26], "nice": false, "zero": false}},
  "y2": {"field": "b"},
  "detail": {"field": "g"}}},
{"data": {"name": "s3"}, "mark": {"type": "line", "color": "#404040", "strokeWidth": 1, "clip": true},
 "encoding": {
  "x": {"field": "t", "type": "quantitative", "scale": {"domain": [3.418, 96.77], "nice": false, "zero": false}},
  "y": {"field": "b", "type": "quantitative", "scale": {"domain": [-0.2045, 7.26], "nice": false, "zero": false}},
  "detail": {"field": "g"}}},
{"data": {"name": "p3"}, "mark": {"type": "line", "color": "black", "strokeWidth": 1.5, "clip": true},
 "encoding": {
  "x": {"field": "t", "type": "quantitative", "scale": {"domain": [3.418, 96.77], "nice": false, "zero": false}},
  "y": {"field": "v", "type": "quantitative", "scale": {"domain": [-0.2045, 7.26], "nice": false, "zero": false}}}},
{"data": {"values": [{}]}, "mark": {"type": "rect", "fill": "white"},
 "encoding": {
  "x": {"datum": 3.418, "type": "quantitative", "scale": {"domain": [3.418, 96.77], "nice": false, "zero": false}},
  "x2": {"datum": 96.77},
  "y": {"datum": 6.585, "type": "quantitative", "scale": {"domain": [-0.2045, 7.26], "nice": false, "zero": false}},
  "y2": {"datum": 7.26}}},
{"data": {"values": [{}]}, "mark": {"type": "rect", "fillOpacity": 0, "stroke": "#3b75cc", "strokeWidth": 2},
 "encoding": {
  "x": {"datum": 3.418, "type": "quantitative", "scale": {"domain": [3.418, 96.77], "nice": false, "zero": false}},
  "x2": {"datum": 96.77},
  "y": {"datum": -0.2045, "type": "quantitative", "scale": {"domain": [-0.2045, 7.26], "nice": false, "zero": false}},
  "y2": {"datum": 7.26}}},
{"data": {"values": [{}]}, "mark": {"type": "rule", "color": "black", "strokeWidth": 2, "xOffset": -3},
 "encoding": {
  "x": {"datum": 3.418, "type": "quantitative", "scale": {"domain": [3.418, 96.77], "nice": false, "zero": false}},
  "y": {"datum": -0.2045, "type": "quantitative", "scale": {"domain": [-0.2045, 7.26], "nice": false, "zero": false}},
  "y2": {"datum": 6.585}}},
{"data": {"name": "l3"}, "mark": {"type": "text", "fontSize": 16, "baseline": "alphabetic", "dy": -6, "color": "black"},
 "encoding": {
  "x": {"field": "t", "type": "quantitative", "scale": {"domain": [3.418, 96.77], "nice": false, "zero": false}},
  "y": {"field": "v", "type": "quantitative", "scale": {"domain": [-0.2045, 7.26], "nice": false, "zero": false}},
  "text": {"field": "s"}}},
{"data": {"values": [{}]}, "mark": {"type": "text", "align": "left", "baseline": "middle", "dx": 5, "dy": 15, "fontSize": 17.5, "color": "black", "text": "+EI TIC Scan EMMANUEL-AS11_020716.D"},
 "encoding": {
  "x": {"datum": 3.418, "type": "quantitative", "scale": {"domain": [3.418, 96.77], "nice": false, "zero": false}},
  "y": {"datum": 7.26, "type": "quantitative", "scale": {"domain": [-0.2045, 7.26], "nice": false, "zero": false}}}},
{"data": {"values": [{}]}, "mark": {"type": "text", "align": "left", "baseline": "middle", "dx": -18, "dy": 19, "fontSize": 11, "color": "black", "text": "5"},
 "encoding": {
  "x": {"datum": 3.418, "type": "quantitative", "scale": {"domain": [3.418, 96.77], "nice": false, "zero": false}},
  "y": {"datum": 7.26, "type": "quantitative", "scale": {"domain": [-0.2045, 7.26], "nice": false, "zero": false}}}},
{"data": {"values": [{}]}, "mark": {"type": "text", "align": "left", "baseline": "middle", "dx": 5, "dy": 9.5, "fontSize": 12, "color": "#999999", "text": "1"},
 "encoding": {
  "x": {"datum": 3.418, "type": "quantitative", "scale": {"domain": [3.418, 96.77], "nice": false, "zero": false}},
  "y": {"datum": 6.585, "type": "quantitative", "scale": {"domain": [-0.2045, 7.26], "nice": false, "zero": false}}}}
]
}
]
}
